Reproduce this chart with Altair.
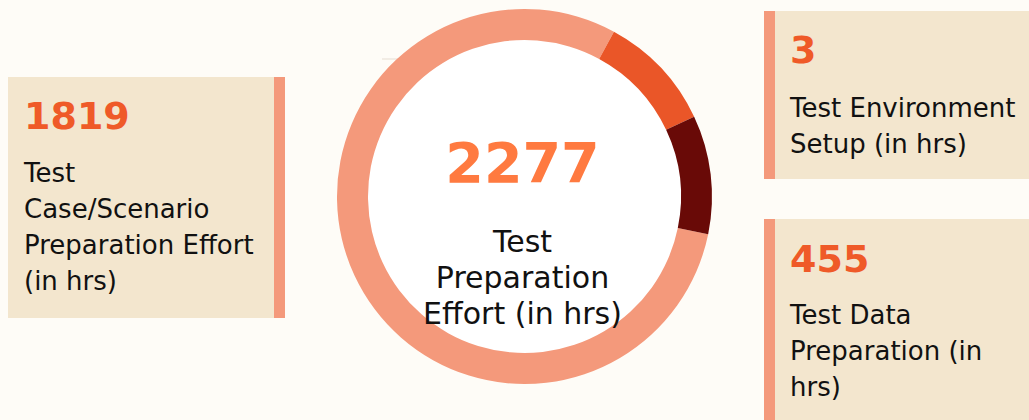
import math
import altair as alt
import pandas as pd

# ---- data ----
categories = [
    "Test Case/Scenario Preparation Effort (in hrs)",
    "Test Environment Setup (in hrs)",
    "Test Data Preparation (in hrs)",
]
values = [1819, 3, 455]
wrapped_labels = [
    "Test\nCase/Scenario\nPreparation Effort\n(in hrs)",
    "Test Environment\nSetup (in hrs)",
    "Test Data\nPreparation (in\nhrs)",
]
center_label = "Test\nPreparation\nEffort (in hrs)"

# ring segments as drawn (angular share, degrees)
ring_segments = ["salmon", "orange", "darkred"]
ring_share = [286.9, 36.3, 36.8]
ring_colors = ["#F4997B", "#EA5628", "#690A07"]

total = sum(values)

FONT = "DejaVu Sans"
BG = "#FEFCF7"
BOX = "#F3E6CE"
ACCENT = "#F4997B"
NUM = "#EF5A28"
TXT = "#111111"

W, H = 1029, 420
CX, CY = 524.5, 196.5
START = math.radians(101.6)

ring_df = pd.DataFrame({"seg": ring_segments, "share": ring_share, "idx": list(range(len(ring_segments)))})

ring = alt.Chart(ring_df).mark_arc(radius=187.5, radius2=156.5).encode(
    theta=alt.Theta("share:Q", stack=True, scale=alt.Scale(range=[START, START + 2 * math.pi])),
    color=alt.Color("seg:N", scale=alt.Scale(domain=ring_segments, range=ring_colors), legend=None),
    order=alt.Order("idx:Q"),
    x=alt.value(CX),
    y=alt.value(CY),
)

one = pd.DataFrame({"k": [0]})

hole = alt.Chart(one).mark_arc(radius=157, theta=0, theta2=2 * math.pi, color="#FFFFFF").encode(
    x=alt.value(CX), y=alt.value(CY)
)


def rect(x, x2, y, y2, color):
    return alt.Chart(one).mark_rect(color=color).encode(
        x=alt.value(x), x2=alt.value(x2), y=alt.value(y), y2=alt.value(y2)
    )


def text(t, x, y, size, color, bold=False, align="left", lh=36):
    df = pd.DataFrame({"t": [t]})
    return alt.Chart(df).mark_text(
        font=FONT, fontSize=size, fontWeight="bold" if bold else "normal",
        color=color, align=align, baseline="alphabetic", lineBreak="\n", lineHeight=lh,
    ).encode(text="t:N", x=alt.value(x), y=alt.value(y))


layers = [
    # left box (case/scenario)
    rect(8, 274, 77, 318, BOX),
    rect(274, 285, 77, 318, ACCENT),
    text(str(values[0]), 24, 129, 38, NUM, bold=True),
    text(wrapped_labels[0], 24, 182, 26, TXT),
    # top-right box (environment)
    rect(775, W, 11, 179, BOX),
    rect(764, 775, 11, 179, ACCENT),
    text(str(values[1]), 790, 63, 38, NUM, bold=True),
    text(wrapped_labels[1], 790, 117, 26, TXT),
    # bottom-right box (data)
    rect(775, W, 219, H, BOX),
    rect(764, 775, 219, H, ACCENT),
    text(str(values[2]), 790, 272, 38, NUM, bold=True),
    text(wrapped_labels[2], 790, 324, 26, TXT),
    # faint stray line
    alt.Chart(one).mark_rule(color="#E6DDD2", strokeWidth=1).encode(
        x=alt.value(382), x2=alt.value(427), y=alt.value(59)
    ),
    # donut
    hole,
    ring,
    text(str(total), 522.5, 182, 55.5, "#FF7A40", bold=True, align="center"),
    text(center_label, 522.5, 252, 30, TXT, align="center"),
]

chart = alt.layer(*layers).properties(
    width=W, height=H, padding=0, autosize=alt.AutoSizeParams(type="none"), background=BG
).configure_view(stroke=None)

chart.save("out.html", embed_options={"renderer": "svg", "actions": False})
